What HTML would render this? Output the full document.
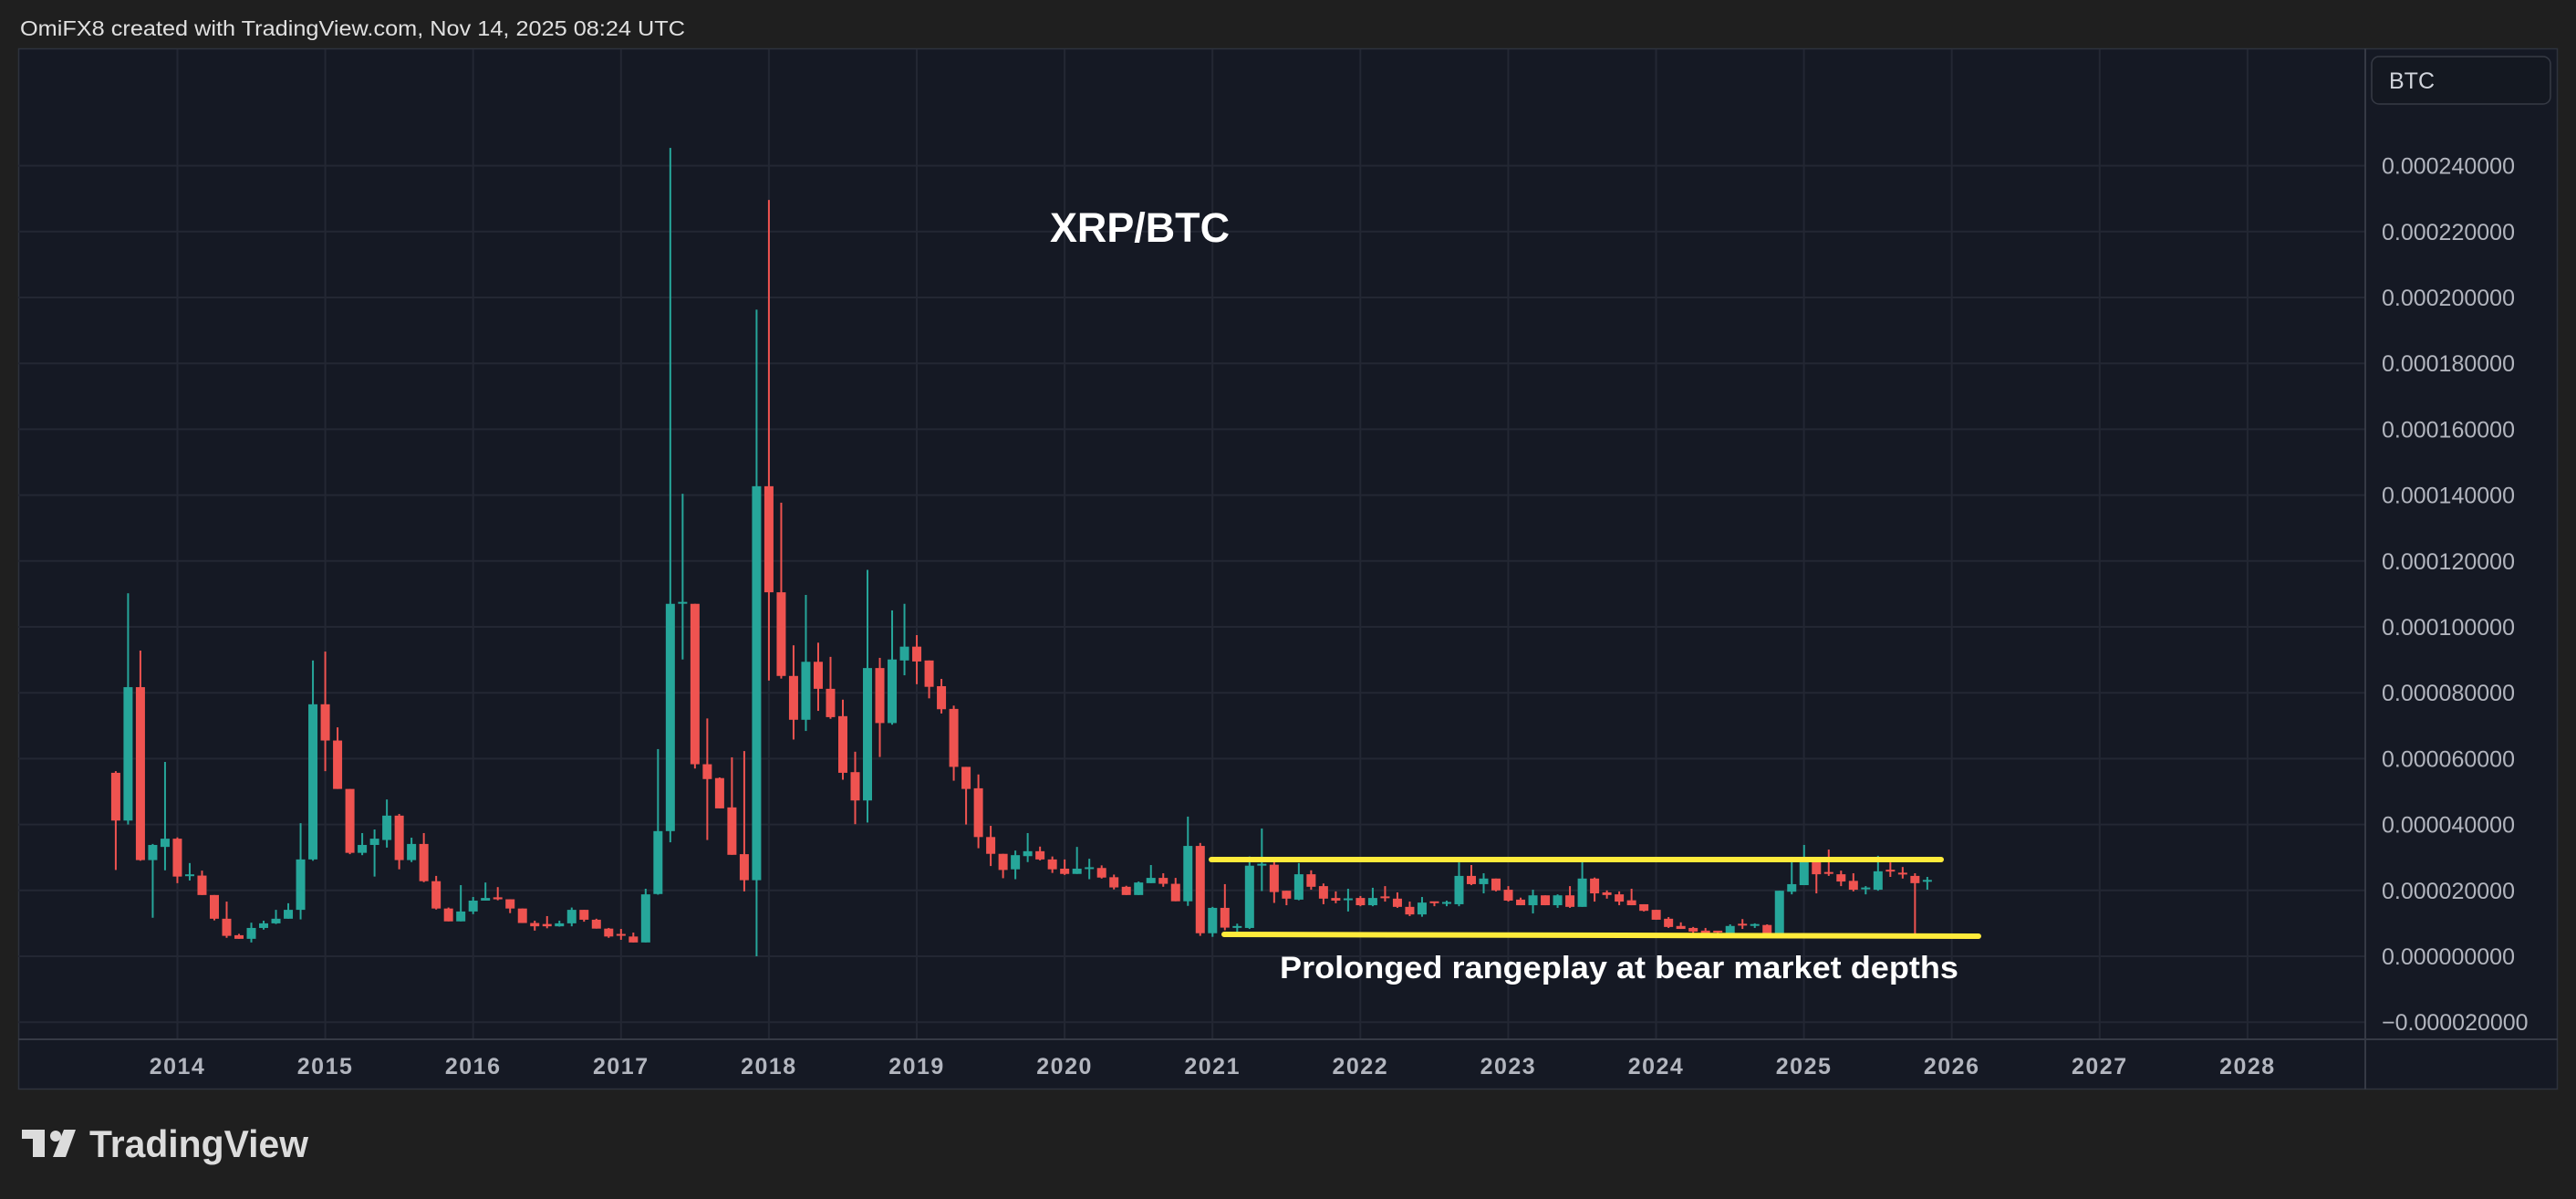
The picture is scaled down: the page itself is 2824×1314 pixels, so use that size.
<!DOCTYPE html>
<html><head><meta charset="utf-8"><style>
html,body{margin:0;padding:0;background:#1f1f1f;width:2824px;height:1314px;overflow:hidden}
svg{display:block}
</style></head><body>
<svg id="s" width="2824" height="1314" xmlns="http://www.w3.org/2000/svg" font-family="Liberation Sans, sans-serif">
<rect x="0" y="0" width="2824" height="1314" fill="#1f1f1f"/>
<text x="22" y="39" font-size="23" fill="#e0e0e0" textLength="729" lengthAdjust="spacingAndGlyphs">OmiFX8 created with TradingView.com, Nov 14, 2025 08:24 UTC</text>
<rect x="20.5" y="53.5" width="2783" height="1140" fill="#151924" stroke="#2e323d" stroke-width="1.5"/>
<g id="grid"></g>
<line x1="20" y1="1139" x2="2804" y2="1139" stroke="#363a45" stroke-width="2"/>
<line x1="2593" y1="53" x2="2593" y2="1194" stroke="#363a45" stroke-width="2"/>
<g id="labels"></g>
<rect x="2600" y="62" width="196" height="52" rx="8" fill="#141821" stroke="#363a45" stroke-width="1.5"/>
<text x="2619" y="97" font-size="25" fill="#d1d4dc">BTC</text>
<g id="candles"></g>
<text x="1151" y="265" font-size="45" font-weight="bold" fill="#ffffff" textLength="197" lengthAdjust="spacingAndGlyphs">XRP/BTC</text>
<line x1="1328" y1="942" x2="2128" y2="942" stroke="#ffeb3b" stroke-width="6" stroke-linecap="round"/>
<line x1="1342" y1="1024" x2="2169" y2="1026" stroke="#ffeb3b" stroke-width="6" stroke-linecap="round"/>
<text x="1403" y="1072" font-size="34" font-weight="bold" fill="#ffffff" textLength="744" lengthAdjust="spacingAndGlyphs">Prolonged rangeplay at bear market depths</text>
<g fill="#dcdcdc">
<rect x="24" y="1238" width="25" height="10"/>
<rect x="36" y="1238" width="13" height="30"/>
<circle cx="61" cy="1245" r="6"/>
<polygon points="70,1238 83,1238 72,1268 58,1268"/>
</g>
<text x="98" y="1268" font-size="42" font-weight="bold" fill="#dcdcdc" textLength="240" lengthAdjust="spacingAndGlyphs">TradingView</text>
</svg>
<script>
var NS="http://www.w3.org/2000/svg";
function el(p,t,a,txt){var e=document.createElementNS(NS,t);for(var k in a)e.setAttribute(k,a[k]);if(txt!==undefined)e.textContent=txt;p.appendChild(e);return e;}
var grid=document.getElementById('grid'),labels=document.getElementById('labels'),cg=document.getElementById('candles');
function Y(v){return 1048-3.61*v;}
for(var k=-1;k<=12;k++){var y=1048-72.2*k;el(grid,'line',{x1:20,x2:2593,y1:y,y2:y,stroke:'#232733','stroke-width':2});
 var v=(k*0.00002);var s=(k<0?'\u22120.':'0.')+String(Math.abs(k*20000)).padStart(9,'0');if(k==0)s='0.000000000';
 el(labels,'text',{x:2611,y:y+9,'font-size':25,fill:'#b2b5be'},s);}
for(var i=0;i<15;i++){var x=194.5+162.1*i;el(grid,'line',{x1:x,x2:x,y1:54,y2:1139,stroke:'#232733','stroke-width':2});
 el(labels,'text',{x:x,y:1177,'font-size':25,'font-weight':'bold',fill:'#b2b5be','text-anchor':'middle','letter-spacing':'1.5'},String(2014+i));}
var D=[[55.7,56.2,26.2,41.2],[41.2,110.2,40,81.7],[81.7,92.8,29,29.2],[29.2,34.1,11.7,33.8],[33.2,59,26.1,35.7],[35.7,36.1,22.2,24.2],[24.4,28.3,23,24.6],[24.5,26,18.6,18.6],[18.6,18.6,10.9,11.4],[11.4,16.6,5.6,6.2],[6.4,6.8,5.3,5.3],[5.3,10.2,4.2,8.6],[8.6,10.8,8.1,10],[10,14.1,9.8,11.4],[11.4,16.1,11.4,14.1],[14.1,40.4,11.2,29.4],[29.4,89.8,29,76.5],[76.5,92.5,56.2,65.5],[65.5,69.5,50.8,50.8],[50.8,50.8,31,31.4],[31.4,37.4,30.7,33.8],[33.8,38.5,24.2,35.7],[35.3,47.6,33,42.7],[42.7,43.2,26.4,29.2],[29.2,36,28.6,34.1],[34.1,37.4,22.5,22.8],[22.8,24.4,14.2,14.5],[14.5,14.8,10.6,10.6],[10.6,21.6,10.6,13.6],[13.6,18,12.8,16.9],[16.9,22.4,16.9,17.7],[17.9,21,17,17.3],[17.3,17.3,13.1,14.5],[14.5,14.5,10.1,10.1],[10.1,10.8,7.8,9.1],[9.8,12.2,8.5,9.1],[9.1,10.8,9,10],[10,14.8,9.1,14.1],[14.1,14.1,10.5,11.1],[11.1,11.4,8.4,8.4],[8.4,8.6,5.6,6],[6.5,8.3,5,6],[6,7.2,4.2,4.2],[4.2,20.5,4.2,18.8],[18.9,62.9,18.7,38],[38,245.4,34.6,107],[107,140.4,90.1,107.3],[107,107,57,58.3],[58.3,72.2,35.3,53.8],[54.1,54.3,44.9,44.9],[45.2,60.4,30.8,30.8],[31,62.3,19.7,23.1],[23.1,196.3,0,142.7],[142.7,229.6,83.7,110.5],[110.5,137.7,84.3,85.1],[85.1,94.4,65.8,71.8],[71.8,109.7,68.4,89.4],[89.4,95.2,74.5,81.2],[81.2,90.9,72.1,72.6],[72.9,77.9,53.6,55.7],[55.9,62.1,40.1,47.3],[47.3,117.3,40.6,87.5],[87.5,90.6,60.5,70.8],[70.8,105,70.3,90.1],[89.8,107,85.3,94],[94,97.5,82.6,89.5],[89.8,89.8,78.3,81.8],[82,84.2,73.7,75],[75.1,76.1,53.3,57.5],[57.5,57.5,40,50.8],[51,55.2,32.8,36.2],[36.2,39.6,27.4,31.1],[31.1,31.1,23.7,26.2],[26.4,32.1,23.4,30.7],[30.4,37.4,28.6,31.9],[31.9,33.3,29.1,29.4],[29.4,30.3,25.3,26.4],[26.6,29.4,24.7,25],[25,33.2,25,26.6],[26.6,29.6,23.4,26.75],[26.8,27.6,23.6,23.9],[24,24.8,20.3,20.9],[21.1,21.4,18.6,18.6],[18.6,22.7,18.6,22.4],[22.2,27.7,22.2,23.8],[23.8,25.2,21.1,22],[22,23.8,16.7,16.7],[16.7,42.4,15.3,33.5],[33.5,34.4,6.2,7],[7,15,5.9,14.7],[14.7,21.9,7.9,8.7],[8.7,9.9,7,8.9],[8.6,30.3,8.3,27.5],[27.5,38.8,19.8,27.8],[27.8,29,16.2,19.5],[19.9,19.9,15.5,17.5],[17.2,28.3,17,24.9],[24.9,26.1,20.2,21.1],[21.3,22.1,15.8,17.5],[17.7,19.7,16.1,16.9],[17,20.5,13.6,17.3],[17.7,18.3,15.2,15.5],[15.5,20.8,15.2,17.7],[17.9,21.3,16.6,17.6],[17.5,19.4,14.7,15],[15,16.6,12.2,12.7],[12.7,18,12,16.3],[16.4,16.5,15.2,16.1],[16,16.9,15.2,16.2],[15.8,28.5,15.2,24.4],[24.4,27.7,21.6,21.9],[21.9,25.2,19.1,23.6],[23.6,23.6,19.7,20],[20.2,21.3,16.6,16.9],[17.2,17.8,15.5,15.5],[15.5,20.2,13,18.5],[18.5,18.5,15.5,15.5],[15.5,18.8,14.7,18.5],[18.5,21.3,14.7,15],[15,29.4,15,23.6],[23.6,23.9,16.6,19.1],[19.4,20,17.5,18.6],[18.8,19.7,15.5,16.6],[17,20.5,15.5,15.5],[15.8,15.8,13.6,13.8],[14.1,14.1,11.1,11.1],[11.4,11.9,8.6,8.9],[9.2,10.3,8.3,8.3],[8.6,8.9,6.7,7.5],[7.8,8.6,7,7],[7.5,7.5,6.4,7],[7,9.7,6.7,9.2],[9.6,11.3,8.3,9.4],[9.3,10,8.6,9.5],[9.5,9.7,6.7,6.7],[6.7,19.9,6.4,19.9],[19.6,30.2,18.8,21.9],[21.6,33.8,21.6,29.4],[29.4,29.4,19.1,24.9],[25.3,32.4,24.4,24.9],[24.9,26,21.3,22.7],[22.9,25.2,19.7,20.2],[20.3,21.3,18.8,20.6],[20.2,30.5,19.9,25.8],[26,28.5,24.1,25.6],[25.1,27.1,23.6,24.7],[24.4,25.2,6.9,22.2],[22.6,24.1,20.2,22.9]];
for(var i=0;i<D.length;i++){var d=D[i],x=126.9+13.51*i,up=d[3]>=d[0],c=up?'#26a69a':'#ef5350';
 el(cg,'rect',{x:x-1,y:Y(d[1]),width:2,height:Math.max(1,Y(d[2])-Y(d[1])),fill:c});
 var t=Y(Math.max(d[0],d[3])),b=Y(Math.min(d[0],d[3]));var h=Math.max(2,b-t);
 el(cg,'rect',{x:x-5,y:(b-t<2?t-1:t),width:10,height:h,fill:c});}
</script>
</body></html>
